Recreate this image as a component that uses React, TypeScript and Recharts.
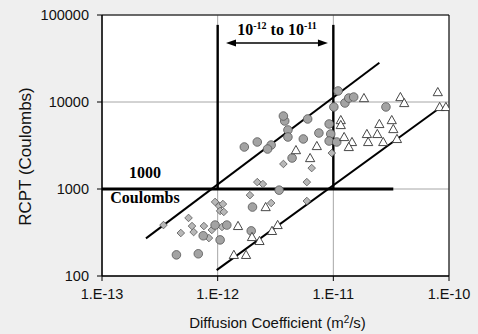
import React from "react";
import {
  ScatterChart,
  Scatter,
  XAxis,
  YAxis,
  CartesianGrid,
  ReferenceLine,
  ReferenceArea,
} from "recharts";

// diffusion coefficient (m2/s) vs RCPT charge (coulombs)
const X_TICKS = [1e-13, 1e-12, 1e-11, 1e-10];
const Y_TICKS = [100, 1000, 10000, 100000];

const CIRCLES: [number, number][] = [
  [4.4e-13, 175], [6.8e-13, 180], [9.5e-13, 385], [1.2e-12, 385], [7.5e-13, 290],
  [1.05e-12, 260], [1.95e-12, 330], [2.0e-12, 620], [3.4e-12, 970], [1.7e-12, 3040],
  [2.2e-12, 3470], [2.9e-12, 3200], [2.7e-12, 2880], [3.8e-12, 6050], [3.7e-12, 6900],
  [4.05e-12, 4770], [4.05e-12, 3960], [4.4e-12, 2270], [5.5e-12, 3760], [6.0e-12, 6380],
  [7.5e-12, 4400], [9.2e-12, 5590], [9.5e-12, 4290], [9.2e-12, 3560], [1.07e-11, 3470],
  [1.01e-11, 8770], [1.1e-11, 13400], [1.26e-11, 9740], [1.36e-11, 11100], [1.5e-11, 11400],
  [2.85e-11, 8770],
];

const DIAMONDS: [number, number][] = [
  [3.4e-13, 385], [5.6e-13, 465], [6.0e-13, 375], [6.2e-13, 320], [4.8e-13, 312],
  [7.6e-13, 375], [8.9e-13, 338], [8.4e-13, 273], [1.09e-12, 366], [9.5e-13, 710],
  [1.03e-12, 638], [1.11e-12, 672], [1.05e-12, 560], [1.13e-12, 545], [2.2e-12, 1200],
  [2.46e-12, 1140], [1.9e-12, 850], [2.9e-12, 690], [3.7e-12, 1940], [6.5e-12, 1740],
  [5.9e-12, 1200], [5.9e-12, 728], [9.7e-12, 2590],
];

const TRIANGLES: [number, number][] = [
  [1.38e-12, 175], [1.76e-12, 175], [1.5e-12, 376], [1.98e-12, 281], [2.3e-12, 253],
  [2.6e-12, 620], [2.95e-12, 330], [3.3e-12, 386], [4.75e-12, 2800], [6.3e-12, 2270],
  [7.2e-12, 3120], [1.16e-11, 6200], [1.16e-11, 5440], [1.24e-11, 3960], [1.45e-11, 3470],
  [1.36e-11, 3040], [1.84e-11, 11100], [1.95e-11, 4290], [2.0e-11, 3470], [2.4e-11, 4290],
  [2.5e-11, 5590], [2.7e-11, 3470], [3.2e-11, 6200], [3.3e-11, 4890], [3.55e-11, 3760],
  [3.8e-11, 11400], [4.1e-11, 9740], [8.0e-11, 13000], [8.3e-11, 8770], [9.4e-11, 8770],
];

const UPPER_LINE: [number, number][] = [[2.4e-13, 271], [2.5e-11, 28300]];
const LOWER_LINE: [number, number][] = [[9.8e-13, 117], [8.3e-11, 8530]];
const LIMIT_LINE: [number, number][] = [[1e-13, 1000], [3.3e-11, 1000]];
const BOUND_LOW: [number, number][] = [[1e-12, 1000], [1e-12, 77000]];
const BOUND_HIGH: [number, number][] = [[1e-11, 1000], [1e-11, 77000]];
const ARROW: [number, number][] = [[1.18e-12, 47600], [8.98e-12, 47600]];

const BG = "#efefef";
const GRID = "#a6a6a6";
const CIRCLE_FILL = "#a3a3a3";
const DIAMOND_FILL = "#b8b8b8";
const MARK_STROKE = "#555555";
const SANS = "'Liberation Sans', Arial, sans-serif";
const SERIF = "'Liberation Serif', 'Times New Roman', serif";

const toPts = (arr: [number, number][]) => arr.map(([x, y]) => ({ x, y }));
const seg = (arr: [number, number][]) => arr.map(([x, y]) => ({ x, y }));

const CircleMark = (p: any) => (
  <circle cx={p.cx} cy={p.cy} r={4.3} fill={CIRCLE_FILL} stroke={MARK_STROKE} strokeWidth={0.8} />
);

const DiamondMark = (p: any) => {
  const s = 3.8;
  return (
    <polygon
      points={`${p.cx},${p.cy - s} ${p.cx + s},${p.cy} ${p.cx},${p.cy + s} ${p.cx - s},${p.cy}`}
      fill={DIAMOND_FILL}
      stroke={MARK_STROKE}
      strokeWidth={0.8}
    />
  );
};

const TriangleMark = (p: any) => (
  <polygon
    points={`${p.cx},${p.cy - 4.6} ${p.cx - 4.6},${p.cy + 3.6} ${p.cx + 4.6},${p.cy + 3.6}`}
    fill="#ffffff"
    stroke="#333333"
    strokeWidth={0.9}
  />
);

function ArrowShape(p: any) {
  const { x1, y1, x2, y2 } = p;
  const h = 10;
  const w = 3.5;
  const cx = (x1 + x2) / 2;
  return (
    <g>
      <line x1={x1 + h - 1} y1={y1} x2={x2 - h + 1} y2={y2} stroke="#000" strokeWidth={1.6} />
      <polygon points={`${x1},${y1} ${x1 + h},${y1 - w} ${x1 + h},${y1 + w}`} fill="#000" />
      <polygon points={`${x2},${y2} ${x2 - h},${y2 - w} ${x2 - h},${y2 + w}`} fill="#000" />
      <text x={cx} y={y1 - 8} textAnchor="middle" fontFamily={SERIF} fontWeight="bold" fontSize={16} fill="#000">
        10<tspan fontSize={10} dy={-6}>-12</tspan>
        <tspan dy={6}> to 10</tspan>
        <tspan fontSize={10} dy={-6}>-11</tspan>
      </text>
    </g>
  );
}

function LimitShape(p: any) {
  const { x1, y1, x2, y2 } = p;
  const lx = x1 + 43;
  return (
    <g>
      <line x1={x1} y1={y1} x2={x2} y2={y2} stroke="#000" strokeWidth={3} />
      <text x={lx} y={y1 - 11} textAnchor="middle" fontFamily={SERIF} fontWeight="bold" fontSize={16} fill="#000">
        1000
      </text>
      <text x={lx} y={y1 + 14} textAnchor="middle" fontFamily={SERIF} fontWeight="bold" fontSize={16} fill="#000">
        Coulombs
      </text>
    </g>
  );
}

function XTitle(props: any) {
  const vb = props.viewBox || { x: 0, y: 0, width: 0, height: 0 };
  return (
    <text x={vb.x + vb.width / 2 + 2} y={vb.y + 52} textAnchor="middle" fontFamily={SANS} fontSize={15} fill="#111">
      Diffusion Coefficient (m<tspan fontSize={10} dy={-5}>2</tspan>
      <tspan dy={5}>/s)</tspan>
    </text>
  );
}

function YTitle(props: any) {
  const vb = props.viewBox || { x: 0, y: 0, width: 0, height: 0 };
  const cx = vb.x + 25;
  const cy = vb.y + vb.height / 2 + 11;
  return (
    <text
      x={cx}
      y={cy}
      transform={`rotate(-90 ${cx} ${cy})`}
      textAnchor="middle"
      dominantBaseline="central"
      fontFamily={SANS}
      fontSize={17}
      fill="#111"
    >
      RCPT (Coulombs)
    </text>
  );
}

const fmtX = (v: number) => `1.E${Math.round(Math.log10(v))}`;

export default function App() {
  return (
    <div style={{ position: "absolute", left: 0, top: 0, width: 478, height: 334, background: BG }}>
      <ScatterChart width={478} height={334} margin={{ top: 15, right: 29, bottom: 28, left: 0 }}>
        <CartesianGrid stroke={GRID} fill="#ffffff" fillOpacity={1} />
        <XAxis
          type="number"
          dataKey="x"
          scale="log"
          domain={[1e-13, 1e-10]}
          ticks={X_TICKS}
          tickFormatter={fmtX}
          height={30}
          tickSize={5}
          tickMargin={8}
          axisLine={{ stroke: "#000" }}
          tickLine={{ stroke: "#000" }}
          tick={{ fill: "#111", fontFamily: SANS, fontSize: 14.5 }}
          allowDataOverflow
          label={<XTitle />}
        />
        <YAxis
          type="number"
          dataKey="y"
          scale="log"
          domain={[100, 100000]}
          ticks={Y_TICKS}
          width={102}
          tickSize={5}
          tickMargin={8}
          axisLine={{ stroke: "#000" }}
          tickLine={{ stroke: "#000" }}
          tick={{ fill: "#111", fontFamily: SANS, fontSize: 14.5 }}
          allowDataOverflow
          label={<YTitle />}
        />
        <ReferenceArea x1={1e-13} x2={1e-10} y1={100} y2={100000} fill="none" stroke="#000" strokeWidth={1} />
        <ReferenceLine segment={seg(UPPER_LINE)} stroke="#000" strokeWidth={2} />
        <ReferenceLine segment={seg(LOWER_LINE)} stroke="#000" strokeWidth={2} />
        <ReferenceLine segment={seg(BOUND_LOW)} stroke="#000" strokeWidth={2.4} />
        <ReferenceLine segment={seg(BOUND_HIGH)} stroke="#000" strokeWidth={2.4} />
        <ReferenceLine segment={seg(LIMIT_LINE)} shape={LimitShape} />
        <ReferenceLine segment={seg(ARROW)} shape={ArrowShape} />
        <Scatter data={toPts(DIAMONDS)} shape={DiamondMark} isAnimationActive={false} />
        <Scatter data={toPts(CIRCLES)} shape={CircleMark} isAnimationActive={false} />
        <Scatter data={toPts(TRIANGLES)} shape={TriangleMark} isAnimationActive={false} />
      </ScatterChart>
    </div>
  );
}
